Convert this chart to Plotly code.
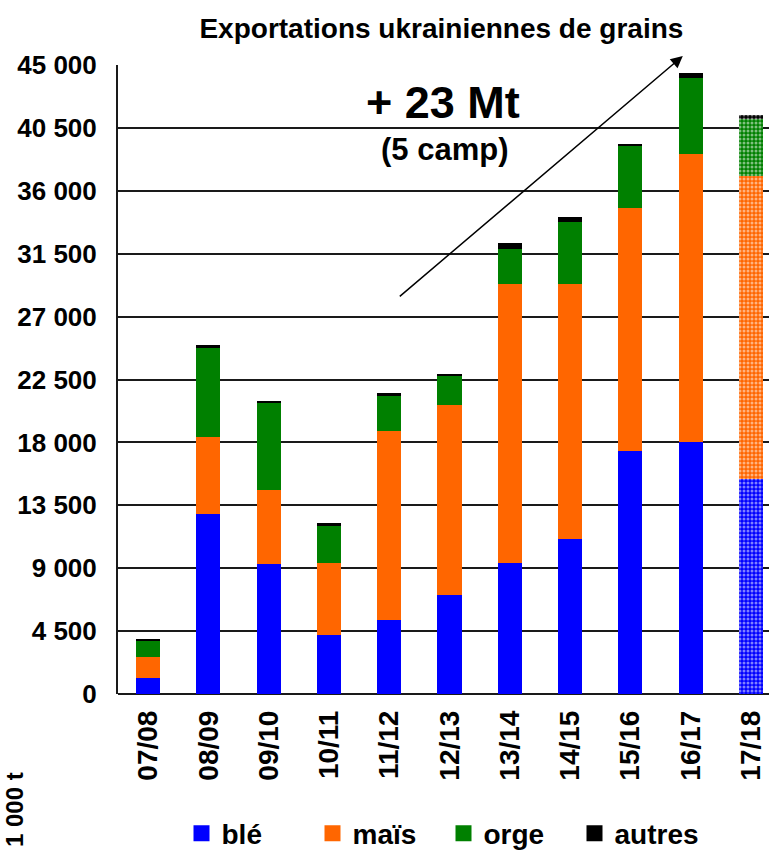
import plotly.graph_objects as go

campagnes = ["07/08", "08/09", "09/10", "10/11", "11/12", "12/13", "13/14", "14/15", "15/16", "16/17", "17/18"]
ble = [1150, 12900, 9300, 4200, 5300, 7100, 9400, 11100, 17350, 18000, 15350]
mais = [1500, 5500, 5300, 5150, 13550, 13550, 19950, 18250, 17400, 20650, 21700]
orge = [1150, 6350, 6200, 2700, 2500, 2100, 2500, 4450, 4450, 5450, 4100]
autres = [150, 200, 150, 150, 150, 150, 450, 300, 150, 300, 300]
y_ticks = [0, 4500, 9000, 13500, 18000, 22500, 27000, 31500, 36000, 40500, 45000]
y_tick_labels = ["0", "4 500", "9 000", "13 500", "18 000", "22 500", "27 000", "31 500", "36 000", "40 500", "45 000"]
forecast = ["17/18"]

FONT = "Liberation Sans, Arial, sans-serif"
series = [("blé", ble, "#0000FF"), ("maïs", mais, "#FF6600"), ("orge", orge, "#008000"), ("autres", autres, "#000000")]

fig = go.Figure()
for name, vals, col in series:
    shapes = ["." if c in forecast else "" for c in campagnes]
    fig.add_trace(go.Bar(
        x=campagnes, y=vals, name=name, width=0.4, showlegend=False,
        marker=dict(color=col, line=dict(width=0),
                    pattern=dict(shape=shapes, fgcolor="white", size=4, solidity=0.45, fillmode="overlay")),
    ))
# legend entries with larger square swatches
for name, vals, col in series:
    fig.add_trace(go.Scatter(
        x=[None], y=[None], mode="markers", name=name,
        marker=dict(symbol="square", size=22, color=col),
    ))

fig.update_layout(
    barmode="stack",
    width=769, height=850,
    margin=dict(l=118, r=0, t=65, b=156, autoexpand=False),
    paper_bgcolor="white", plot_bgcolor="white",
    font=dict(family=FONT, color="black"),
    title=dict(text="<b>Exportations ukrainiennes de grains</b>", x=0.574, xanchor="center",
               y=0.967, yanchor="middle", font=dict(size=28, family=FONT, color="black")),
    xaxis=dict(range=[-0.5, 10.3], tickangle=-90, showgrid=False, showline=False, automargin=False,
               tickfont=dict(size=28, family=FONT, color="black", weight="bold"),
               ticks="", ticklabelstandoff=10),
    yaxis=dict(range=[0, 45000], tickvals=y_ticks, ticktext=y_tick_labels, automargin=False,
               tickfont=dict(size=26, family=FONT, color="black", weight="bold"),
               showgrid=True, gridcolor="#1a1a1a", gridwidth=2,
               showline=True, linecolor="#1a1a1a", linewidth=2,
               zeroline=True, zerolinecolor="#1a1a1a", zerolinewidth=2,
               ticks="", ticklabelstandoff=14),
    legend=dict(orientation="h", x=0.5, xanchor="center", y=-0.222, yanchor="middle",
                font=dict(size=28, family=FONT, color="black", weight="bold"),
                itemwidth=30, entrywidth=86, entrywidthmode="pixels",
                traceorder="normal", bgcolor="rgba(0,0,0,0)", itemsizing="trace"),
    showlegend=True,
    annotations=[
        dict(x=8.87, y=45643, xref="x", yref="y", ax=4.15, ay=28357, axref="x", ayref="y",
             showarrow=True, arrowhead=2, arrowsize=1.6, arrowwidth=1.5, arrowcolor="black", text=""),
        dict(x=443, y=102, xref="paper", yref="paper", text="<b>+ 23 Mt</b>", showarrow=False,
             font=dict(size=45, family=FONT, color="black")),
        dict(x=444, y=150, xref="paper", yref="paper", text="<b>(5 camp)</b>", showarrow=False,
             font=dict(size=31, family=FONT, color="black")),
        dict(x=14, y=810, xref="paper", yref="paper", text="<b>1 000 t</b>", textangle=-90, showarrow=False,
             font=dict(size=24, family=FONT, color="black")),
    ],
)

# convert pixel positions of text annotations to paper coords
pw, ph = 769 - 118, 850 - 65 - 156
for a in fig.layout.annotations[1:]:
    px, py = a.x, a.y
    a.x = (px - 118) / pw
    a.y = (694 - py) / ph
    a.xanchor = "center"
    a.yanchor = "middle"

fig.write_html("out.html")
